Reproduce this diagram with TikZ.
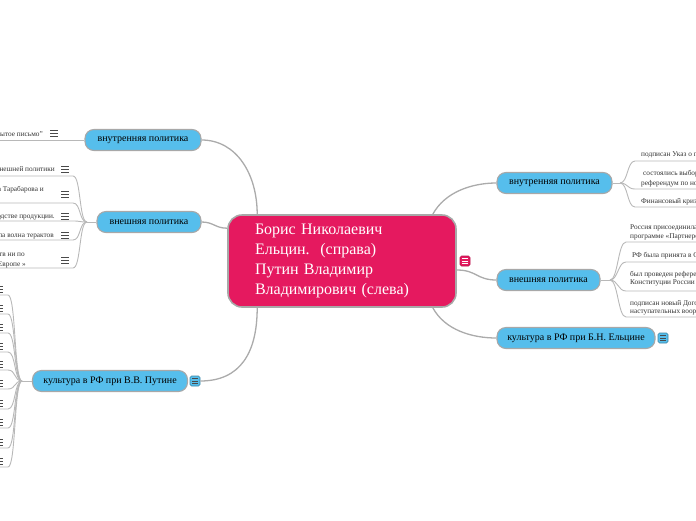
\documentclass[tikz,border=0pt]{standalone}
\usepackage{fontspec}
\setmainfont{Liberation Serif}
\usetikzlibrary{calc}
\definecolor{magC}{HTML}{E5195F}
\definecolor{blueC}{HTML}{56BEEC}
\definecolor{bord}{HTML}{A8A8A8}
\definecolor{lineC}{HTML}{ABABAB}
\definecolor{subC}{HTML}{B8B8B8}
\definecolor{txt}{HTML}{333333}
\definecolor{iconC}{HTML}{4A4A4A}
\begin{document}
\begin{tikzpicture}[x=1pt,y=-1pt,
  conn/.style={draw=lineC,line width=1.3pt},
  sub/.style={draw=subC,line width=0.9pt},
  branch/.style={draw=bord,fill=blueC,line width=1.1pt,rounded corners=9pt,minimum height=21pt,inner sep=0pt,font=\fontsize{10}{12}\selectfont,text=black},
  item/.style={font=\fontsize{7.3}{9}\selectfont,text=txt,inner sep=0pt},
  iconbox/.style={minimum size=10pt,inner sep=0pt,rounded corners=1.5pt,line width=0.6pt},
  menuic/.pic={\draw[line width=0.8pt,iconC] (-4,-3)--(4,-3) (-4,0)--(4,0) (-4,3)--(4,3);},
  smallic/.pic={\draw[line width=0.8pt] (-3,-2.4)--(3,-2.4) (-3,0)--(3,0) (-3,2.4)--(3,2.4);}
]
\useasboundingbox (0,0) rectangle (696,520);
\clip (0,0) rectangle (696,520);

% central node
\node[draw=bord, fill=magC, line width=1.6pt, rounded corners=14pt, minimum width=228pt, minimum height=92pt, text width=174pt, inner xsep=27pt, inner ysep=0pt, align=left, text=white, font=\fontsize{16}{20.2}\selectfont] (C) at (342,261) {Борис Николаевич\\Ельцин.\ \ (справа)\\Путин Владимир\\Владимирович (слева)};
\node[iconbox, draw=magC!80!black, fill=magC] (Ci) at (465,261) {};
\pic[white] at (Ci) {smallic};

% branches
\node[branch,minimum width=116pt] (L1) at (143,140) {внутренняя политика};
\node[branch,minimum width=104pt] (L2) at (149,222) {внешняя политика};
\node[branch,minimum width=155pt] (L3) at (110,381) {культура в РФ при В.В. Путине};
\node[branch,minimum width=115pt] (R1) at (554.5,183) {внутренняя политика};
\node[branch,minimum width=103pt] (R2) at (548.5,280) {внешняя политика};
\node[branch,minimum width=158pt] (R3) at (576,338) {культура в РФ при Б.Н. Ельцине};

\node[iconbox, draw=blueC!70!black, fill=blueC] (L3i) at (195,381) {};
\pic[iconC] at (L3i) {smallic};
\node[iconbox, draw=blueC!70!black, fill=blueC] (R3i) at (663,338) {};
\pic[iconC] at (R3i) {smallic};

% central connectors
\draw[conn] ([xshift=30pt]C.north west) .. controls +(0,-40) and +(35,0) .. (L1.east);
\draw[conn] ([yshift=-14pt]C.north west) .. controls +(-12,0) and +(12,0) .. (L2.east);
\draw[conn] ([xshift=30pt]C.south west) .. controls +(0,45) and +(40,0) .. (L3i.east);
\draw[conn] ([xshift=-24pt]C.north east) .. controls +(12,-22) and +(-25,0) .. (R1.west);
\draw[conn] ([yshift=-9pt]C.east) .. controls +(20,0) and +(-20,0) .. (R2.west);
\draw[conn] ([xshift=-24pt]C.south east) .. controls +(12,22) and +(-25,0) .. (R3.west);

% left: internal policy
\coordinate (li1) at (0,140);
\draw[sub] (L1.west) -- (li1);
\node[item,anchor=base east] (lt1) at (43,136) {«Открытое письмо"};
\pic at (54,133) {menuic};

% left: external policy
\coordinate (jL) at (87,222);
\draw[sub] (L2.west) -- (jL);
\foreach \yy in {176,203,221,240,268}{
  \draw[sub] (jL) .. controls +(-8,0) and +(8,0) .. (73,\yy) -- ++(-80,0);
}
\node[item,anchor=base east] (le1) at (55,171.5) {Концепция внешней политики};
\pic at (65,169) {menuic};
\node[item,anchor=base east] (le2) at (44,191) {передача Китаю острова Тарабарова и};
\pic at (65,194) {menuic};
\node[item,anchor=base east] (le3) at (55,218.5) {рост в производстве продукции.};
\pic at (65,216) {menuic};
\node[item,anchor=base east] (le4) at (54,237.5) {В России прошла волна терактов};
\pic at (65,235) {menuic};
\node[item,anchor=base east] (le5a) at (25,256.5) {мораторий на выполнение обязательств ни по};
\node[item,anchor=base east] (le5b) at (26,266) {«Договору об обычных вооружённых силах в Европе »};
\pic at (65,260) {menuic};

% left: culture Putin
\coordinate (jP) at (22,381);
\draw[sub] (L3.west) -- (jP);
\foreach \yy in {295,314,333,352,370,389,409,428,448,467}{
  \draw[sub] (jP) .. controls +(-8,0) and +(8,0) .. (8,\yy) -- ++(-20,0);
  \pic at (-1,\yy-6) {menuic};
}

% right: internal policy
\coordinate (jR1) at (620,183);
\draw[sub] (R1.east) -- (jR1);
\foreach \yy in {161,189,207}{
  \draw[sub] (jR1) .. controls +(8,0) and +(-8,0) .. (635,\yy) -- ++(80,0);
}
\node[item,anchor=base west] (ri1) at (641,156.5) {подписан Указ о проведении референдума};
\node[item,anchor=base west] (ri2a) at (643,175) {состоялись выборы в Государственную Думу и};
\node[item,anchor=base west] (ri2b) at (641,185) {референдум по новой Конституции};
\node[item,anchor=base west] (ri3) at (641,203) {Финансовый кризис 1998 года};

% right: external policy
\coordinate (jR2) at (610,280);
\draw[sub] (R2.east) -- (jR2);
\foreach \yy in {242,262,291,317}{
  \draw[sub] (jR2) .. controls +(8,0) and +(-8,0) .. (626,\yy) -- ++(80,0);
}
\node[item,anchor=base west] (re1a) at (630,229) {Россия присоединилась к};
\node[item,anchor=base west] (re1b) at (630,238) {программе «Партнерство во имя мира»};
\node[item,anchor=base west] (re2) at (632,257) {РФ была принята в Совет Европы};
\node[item,anchor=base west] (re3a) at (630,276) {был проведен референдум о принятии};
\node[item,anchor=base west] (re3b) at (630,284) {Конституции России};
\node[item,anchor=base west] (re4a) at (630,305) {подписан новый Договор о сокращении};
\node[item,anchor=base west] (re4b) at (630,313) {наступательных вооружений};
\end{tikzpicture}
\end{document}
